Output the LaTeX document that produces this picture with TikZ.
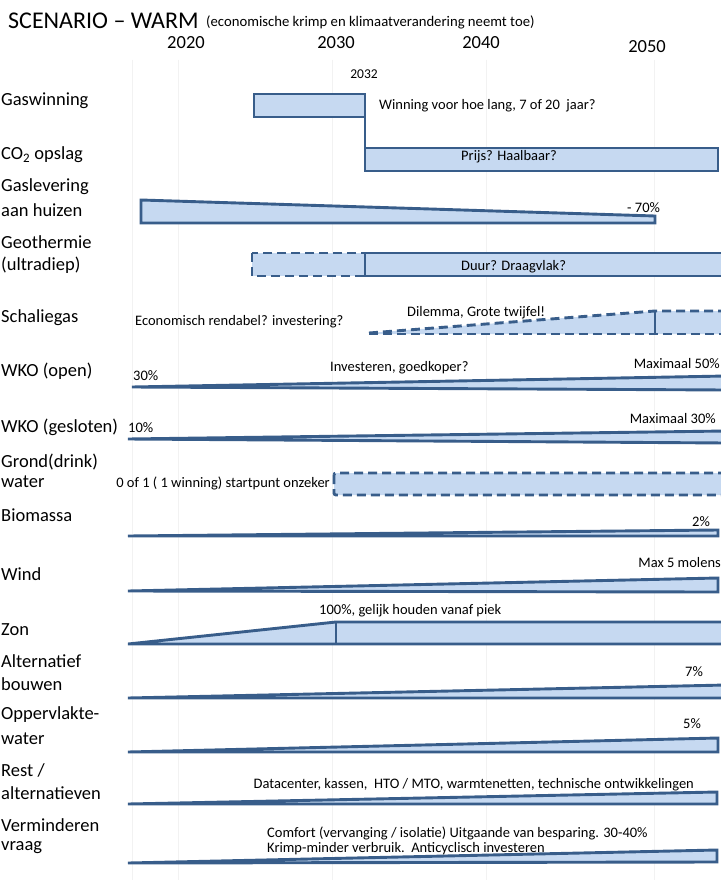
\documentclass[tikz,border=0pt]{standalone}
\usepackage{fontspec}
\setmainfont{Carlito}
\definecolor{barfill}{HTML}{C6D9F1}
\definecolor{barline}{HTML}{385D8A}
\definecolor{gridc}{HTML}{F2F2F2}
\begin{document}
\begin{tikzpicture}[x=1pt,y=-1pt,
  bar/.style={draw=barline, fill=barfill, line width=2.9pt, line join=miter},
  dbar/.style={bar, dash pattern=on 9pt off 5pt},
  edge/.style={draw=barline, line width=2.9pt},
  dedge/.style={edge, dash pattern=on 9pt off 5pt},
  lab/.style={anchor=west, inner sep=0pt, font=\fontsize{18.5}{22}\selectfont},
  ann/.style={inner sep=0pt, font=\fontsize{14.5}{17}\selectfont},
  yr/.style={inner sep=0pt, font=\fontsize{18.5}{22}\selectfont},
  gridl/.style={draw=gridc, line width=0.8pt}]
\useasboundingbox (0,0) rectangle (720,880);
\fill[white] (0,0) rectangle (720,880);
% faint grid
\foreach \gx in {132,178,332,486,654} \draw[gridl] (\gx,60) -- (\gx,880);
% title
\node[anchor=base west, inner sep=0pt, font=\fontsize{24}{28}\selectfont] (title) at (8,29) {SCENARIO – WARM};
\node[anchor=base west, inner sep=0pt, font=\fontsize{14.7}{17}\selectfont] (subtitle) at (206,27) {(economische krimp en klimaatverandering neemt toe)};
\node[yr] (y2020) at (186,43) {2020};
\node[yr] (y2030) at (336,43) {2030};
\node[yr] (y2040) at (481,43) {2040};
\node[yr] (y2050) at (647,47) {2050};
\node[ann, font=\fontsize{13.5}{16}\selectfont] (y2032) at (364,74) {2032};
% row labels
\node[lab] (lgas) at (1,101) {Gaswinning};
\node[lab] (lco2) at (1,155) {CO\textsubscript{2} opslag};
\node[lab] (lgl1) at (1,187) {Gaslevering};
\node[lab] (lgl2) at (1,210) {aan huizen};
\node[lab] (lge1) at (1,242) {Geothermie};
\node[lab] (lge2) at (1,265) {(ultradiep)};
\node[lab] (lsch) at (1,318) {Schaliegas};
\node[lab] (lwo) at (1,371) {WKO (open)};
\node[lab] (lwg) at (1,427) {WKO (gesloten)};
\node[lab] (lgr1) at (1,462) {Grond(drink)};
\node[lab] (lgr2) at (1,482) {water};
\node[lab] (lbio) at (1,515) {Biomassa};
\node[lab] (lwind) at (1,574) {Wind};
\node[lab] (lzon) at (1,630) {Zon};
\node[lab] (lal1) at (1,661) {Alternatief};
\node[lab] (lal2) at (1,684) {bouwen};
\node[lab] (lop1) at (1,715) {Oppervlakte-};
\node[lab] (lop2) at (1,739) {water};
\node[lab] (lre1) at (1,770) {Rest /};
\node[lab] (lre2) at (1,793) {alternatieven};
\node[lab] (lve1) at (1,825) {Verminderen};
\node[lab] (lve2) at (1,848) {vraag};
% Gaswinning
\draw[bar] (254,94) rectangle (365,117);
\node[ann, anchor=west] (tgas) at (379,106) {Winning voor hoe lang, 7 of 20\ \ jaar?};
\draw[edge, line width=1.8pt] (365,117) -- (365,148);
% CO2
\draw[bar] (365,148) rectangle (718,171);
\node[ann, anchor=west] (tco2) at (461,157) {Prijs? Haalbaar?};
% Gaslevering
\draw[bar] (141,200) -- (655,216) -- (655,223) -- (141,223) -- cycle;
\node[ann, anchor=west] (tgl) at (627,208) {- 70\%};
% Geothermie
\draw[dbar] (252,253) rectangle (365,276);
\draw[bar] (365,253) rectangle (726,276);
\node[ann, anchor=west] (tge) at (461,267) {Duur? Draagvlak?};
% Schaliegas
\fill[barfill] (369,333) -- (655,311) -- (726,311) -- (726,334) -- (369,334) -- cycle;
\draw[dedge] (369,333) -- (655,311) -- (726,311);
\draw[dedge] (369,334) -- (726,334);
\draw[edge] (655,311) -- (655,334);
\node[ann, anchor=west] (tsch1) at (135,322) {Economisch rendabel? investering?};
\node[ann, anchor=west] (tsch2) at (407,313) {Dilemma, Grote twijfel!};
% WKO open
\draw[bar] (132,387) -- (726,376) -- (726,390) -- cycle;
\node[ann, anchor=west] (two1) at (133,376) {30\%};
\node[ann, anchor=west] (two2) at (330,368) {Investeren, goedkoper?};
\node[ann, anchor=east] (two3) at (720,364) {Maximaal 50\%};
% WKO gesloten
\draw[bar] (128,439) -- (726,431) -- (726,443) -- cycle;
\node[ann, anchor=west] (twg1) at (128,428) {10\%};
\node[ann, anchor=east] (twg2) at (716,419) {Maximaal 30\%};
% Grondwater
\draw[dbar, rounded corners=2pt] (334,473) rectangle (728,495);
\node[ann, anchor=east] (tgr) at (330,483) {0 of 1 ( 1 winning) startpunt onzeker};
% Biomassa
\draw[bar] (128,536) -- (718,530) -- (718,536) -- cycle;
\node[ann, anchor=west] (tbio) at (692,522) {2\%};
% Wind
\draw[bar] (128,591) -- (718,578) -- (718,592) -- cycle;
\node[ann, anchor=east] (twind) at (721,563) {Max 5 molens};
% Zon
\draw[bar] (128,644) -- (336,622) -- (728,622) -- (728,644) -- cycle;
\draw[edge] (336,622) -- (336,644);
\node[ann, anchor=west] (tzon) at (319,611) {100\%, gelijk houden vanaf piek};
% Alternatief bouwen
\draw[bar] (128,698) -- (726,685) -- (726,698) -- cycle;
\node[ann, anchor=west] (talt) at (685,672) {7\%};
% Oppervlaktewater
\draw[bar] (128,752) -- (718,738) -- (718,752) -- cycle;
\node[ann, anchor=west] (topp) at (683,724) {5\%};
% Rest
\draw[bar] (128,804) -- (717,792) -- (717,804) -- cycle;
\node[ann, anchor=east] (trest) at (694,785) {Datacenter, kassen,\ \ HTO / MTO, warmtenetten, technische ontwikkelingen};
% Verminderen vraag
\draw[bar] (128,863) -- (717,850) -- (717,862) -- cycle;
\node[ann, anchor=west] (tver1) at (267,833) {Comfort (vervanging / isolatie) Uitgaande van besparing. 30-40\%};
\node[ann, anchor=west] (tver2) at (267,849) {Krimp-minder verbruik.\ \ Anticyclisch investeren};
\end{tikzpicture}
\end{document}
